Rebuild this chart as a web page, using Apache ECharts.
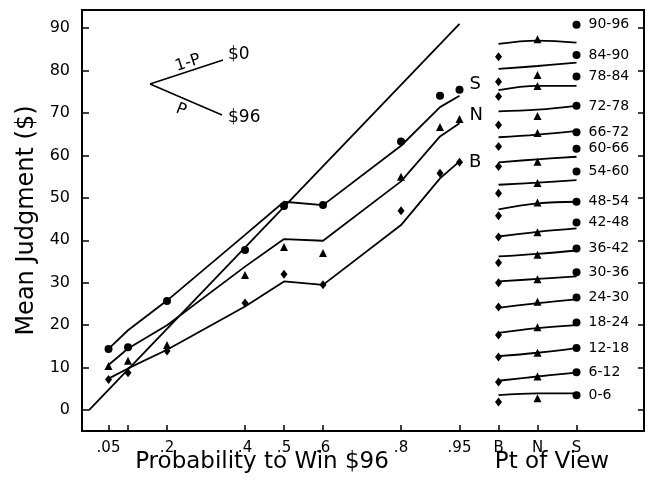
<!DOCTYPE html>
<html>
<head>
<meta charset="utf-8">
<script src="https://cdn.jsdelivr.net/npm/echarts@6/dist/echarts.min.js"></script>
<style>
  html, body { margin: 0; padding: 0; background: #fff; }
  #chart { width: 655px; height: 494px; }
</style>
</head>
<body>
<div id="chart"></div>
<script>
// left panel: probability of winning $96 and mean judgments per point of view
var pLevels = [0.05, 0.1, 0.2, 0.4, 0.5, 0.6, 0.8, 0.9, 0.95];
var sMean = [14.4, 14.8, 25.7, 37.7, 48.1, 48.3, 63.3, 74.1, 75.5];
var nMean = [10.4, 11.6, 15.3, 31.8, 38.4, 37.0, 55.0, 66.7, 68.6];
var bMean = [7.2, 8.8, 13.9, 25.2, 32.0, 29.5, 47.0, 55.8, 58.4];
// fitted curves
var sFit = [14.4, 18.8, 25.8, 41.3, 49.1, 48.3, 62.3, 71.4, 74.1];
var nFit = [10.6, 14.5, 20.0, 33.8, 40.3, 39.9, 53.9, 64.5, 67.6];
var bFit = [7.4, 9.8, 14.2, 24.4, 30.3, 29.5, 43.6, 54.6, 58.6];
// expected value line (96 * p)
var evP = [0, 0.95];
var evValue = [0, 91];

// axis ticks / labels
var pTickAt = [0.05, 0.1, 0.2, 0.4, 0.5, 0.6, 0.8, 0.95, 1.05, 1.15, 1.25];
var xLabelAt = [0.05, 0.2, 0.4, 0.5, 0.6, 0.8, 0.95, 1.05, 1.15, 1.25];
var xLabels = ['.05', '.2', '.4', '.5', '.6', '.8', '.95', 'B', 'N', 'S'];
var yTicks = [0, 10, 20, 30, 40, 50, 60, 70, 80, 90];

// right panel: point of view, per range of outcome
var viewAt = [1.05, 1.15, 1.25];
var ranges = ['90-96', '84-90', '78-84', '72-78', '66-72', '60-66', '54-60', '48-54',
              '42-48', '36-42', '30-36', '24-30', '18-24', '12-18', '6-12', '0-6'];
var viewB = [83.3, 77.4, 73.9, 67.2, 62.1, 57.4, 51.1, 45.8, 40.8, 34.7, 30.0, 24.3, 17.7, 12.5, 6.6, 1.9];
var viewN = [87.4, 79.0, 76.4, 69.3, 65.3, 58.5, 53.5, 48.9, 41.9, 36.6, 30.8, 25.5, 19.5, 13.5, 7.9, 2.8];
var viewS = [90.8, 83.7, 78.6, 71.7, 65.5, 61.6, 56.2, 49.1, 44.2, 38.1, 32.5, 26.5, 20.6, 14.6, 8.9, 3.5];
var fitB = [86.3, 80.4, 75.4, 70.4, 64.3, 58.4, 53.1, 47.3, 40.9, 36.2, 30.3, 24.1, 18.2, 12.7, 6.9, 3.5];
var fitN = [87.1, 81.1, 76.4, 70.8, 64.9, 59.1, 53.6, 48.7, 42.0, 36.8, 30.9, 25.2, 19.3, 13.5, 7.9, 3.9];
var fitS = [86.6, 81.9, 76.4, 71.7, 65.8, 59.7, 54.2, 49.1, 42.8, 37.6, 31.5, 26.1, 20.0, 14.6, 8.8, 3.9];

var FONT = 'DejaVu Sans';
var black = '#000';

function pairs(xs, ys) {
  return xs.map(function (x, i) { return [x, ys[i]]; });
}

function fitLine(data) {
  return {
    type: 'line', data: data, symbol: 'none', silent: true,
    lineStyle: { color: black, width: 1.8 }, z: 2
  };
}

function points(data, symbol, size, letter, offset) {
  return {
    type: 'scatter', data: data.map(function (d, i) {
      var item = { value: d };
      if (letter && i === data.length - 1) {
        item.label = {
          show: true, formatter: letter, position: 'right', distance: 6, offset: offset,
          fontFamily: FONT, fontSize: 18, color: black
        };
      }
      return item;
    }),
    symbol: symbol, symbolSize: size,
    itemStyle: { color: black, opacity: 1 }, z: 3
  };
}

var series = [];
series.push({
  type: 'line', data: pairs(evP, evValue), symbol: 'none',
  lineStyle: { color: black, width: 1.8 }
});
series.push(fitLine(pairs(pLevels, sFit)));
series.push(fitLine(pairs(pLevels, nFit)));
series.push(fitLine(pairs(pLevels, bFit)));
series.push(points(pairs(pLevels, sMean), 'circle', 8, 'S', [0, -5]));
series.push(points(pairs(pLevels, nMean), 'triangle', 8, 'N', [0, -4]));
series.push(points(pairs(pLevels, bMean), 'diamond', [7, 9], 'B', [0, 0]));

// right panel
ranges.forEach(function (r, i) {
  var s = fitLine([[viewAt[0], fitB[i]], [viewAt[1], fitN[i]], [viewAt[2], fitS[i]]]);
  s.smooth = 0.4;
  series.push(s);
});
series.push({
  type: 'scatter', symbol: 'diamond', symbolSize: [7, 9],
  data: viewB.map(function (v) { return [viewAt[0], v]; }),
  itemStyle: { color: black, opacity: 1 }
});
series.push({
  type: 'scatter', symbol: 'triangle', symbolSize: 8,
  data: viewN.map(function (v) { return [viewAt[1], v]; }),
  itemStyle: { color: black, opacity: 1 }
});
series.push({
  type: 'scatter', symbol: 'circle', symbolSize: 8,
  data: viewS.map(function (v, i) { return { value: [viewAt[2], v], name: ranges[i] }; }),
  itemStyle: { color: black, opacity: 1 },
  label: {
    show: true, position: 'right', distance: 8, formatter: '{b}',
    fontFamily: FONT, fontSize: 14, color: black
  }
});

function xLabel(v) {
  for (var i = 0; i < xLabelAt.length; i++) {
    if (Math.abs(xLabelAt[i] - v) < 1e-6) return xLabels[i];
  }
  return '';
}

var chart = echarts.init(document.getElementById('chart'));
chart.setOption({
  animation: false,
  backgroundColor: '#fff',
  textStyle: { fontFamily: FONT },
  grid: {
    left: 82, right: 11, top: 10, bottom: 63,
    show: true, borderColor: black, borderWidth: 2, backgroundColor: 'transparent'
  },
  xAxis: {
    type: 'value', min: -0.018, max: 1.423,
    splitLine: { show: false },
    axisLine: { onZero: false, lineStyle: { color: black, width: 2 } },
    axisTick: { inside: true, length: 6, customValues: pTickAt, lineStyle: { color: black, width: 1.5 } },
    axisLabel: {
      customValues: xLabelAt, formatter: xLabel, margin: 10,
      fontFamily: FONT, fontSize: 15, color: black
    }
  },
  yAxis: [{
    type: 'value', min: -4.95, max: 94.3,
    name: 'Mean Judgment ($)', nameLocation: 'middle', nameGap: 37,
    nameTextStyle: { fontFamily: FONT, fontSize: 24, color: black },
    splitLine: { show: false },
    axisLine: { onZero: false, lineStyle: { color: black, width: 2 } },
    axisTick: { inside: true, length: 7, customValues: yTicks, lineStyle: { color: black, width: 1.5 } },
    axisLabel: { customValues: yTicks, margin: 12, fontFamily: FONT, fontSize: 16, color: black }
  }, {
    type: 'value', min: -4.95, max: 94.3, position: 'right',
    splitLine: { show: false },
    axisLine: { show: true, onZero: false, lineStyle: { color: black, width: 2 } },
    axisTick: { inside: true, length: 6, customValues: yTicks, lineStyle: { color: black, width: 1.5 } },
    axisLabel: { show: false }
  }],
  graphic: [
    // gamble diagram
    { type: 'line', shape: { x1: 150, y1: 84, x2: 223, y2: 60 }, style: { stroke: black, lineWidth: 1.5 } },
    { type: 'line', shape: { x1: 150, y1: 84, x2: 222, y2: 115 }, style: { stroke: black, lineWidth: 1.5 } },
    { type: 'text', x: 188, y: 63, rotation: 18 * Math.PI / 180,
      style: { text: '1-P', font: '16px "DejaVu Sans"', fill: black, align: 'center', verticalAlign: 'middle' } },
    { type: 'text', x: 181, y: 110, rotation: -22 * Math.PI / 180,
      style: { text: 'P', font: '16px "DejaVu Sans"', fill: black, align: 'center', verticalAlign: 'middle' } },
    { type: 'text', x: 228, y: 55,
      style: { text: '$0', font: '17px "DejaVu Sans"', fill: black, verticalAlign: 'middle' } },
    { type: 'text', x: 228, y: 118,
      style: { text: '$96', font: '17px "DejaVu Sans"', fill: black, verticalAlign: 'middle' } },
    // axis titles
    { type: 'text', x: 262, y: 462,
      style: { text: 'Probability to Win $96', font: '23px "DejaVu Sans"', fill: black, align: 'center', verticalAlign: 'middle' } },
    { type: 'text', x: 552, y: 462,
      style: { text: 'Pt of View', font: '23px "DejaVu Sans"', fill: black, align: 'center', verticalAlign: 'middle' } }
  ],
  series: series
});
</script>
</body>
</html>
